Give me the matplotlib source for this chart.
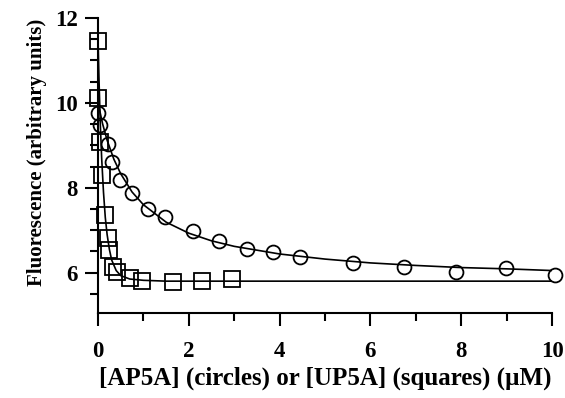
import matplotlib
matplotlib.use("Agg")
import matplotlib.pyplot as plt
from matplotlib.ticker import MultipleLocator

# measured points
circ_x = [0.0, 0.04, 0.22, 0.31, 0.48, 0.75, 1.1, 1.48, 2.09, 2.67, 3.28, 3.86, 4.45, 5.62, 6.74, 7.89, 8.99, 10.07]
circ_y = [9.77, 9.47, 9.04, 8.6, 8.18, 7.87, 7.5, 7.31, 6.98, 6.75, 6.56, 6.49, 6.37, 6.23, 6.14, 6.02, 6.12, 5.95]

sq_x = [0.0, 0.01, 0.04, 0.09, 0.15, 0.22, 0.25, 0.33, 0.42, 0.7, 0.97, 1.65, 2.3, 2.95]
sq_y = [11.46, 10.12, 9.07, 8.3, 7.36, 6.82, 6.54, 6.14, 6.02, 5.88, 5.81, 5.77, 5.81, 5.84]

# fitted curves
circ_fit_x = [0, 0.1, 0.2, 0.35, 0.5, 0.75, 1, 1.5, 2, 2.5, 3, 4, 5, 6, 7, 8, 9, 10]
circ_fit_y = [10.0, 9.51, 9.12, 8.67, 8.33, 7.90, 7.60, 7.19, 6.93, 6.75, 6.62, 6.44, 6.32, 6.23, 6.17, 6.12, 6.09, 6.05]

sq_fit_x = [0, 0.02, 0.05, 0.08, 0.12, 0.16, 0.2, 0.25, 0.3, 0.4, 0.5, 0.7, 1.0, 1.5, 2, 10]
sq_fit_y = [11.5, 10.6, 9.5, 8.7, 7.9, 7.3, 6.9, 6.55, 6.3, 6.05, 5.93, 5.85, 5.82, 5.8, 5.8, 5.8]

plt.rcParams["font.family"] = "Liberation Serif"
plt.rcParams["font.weight"] = "bold"

fig = plt.figure(figsize=(5.65, 3.98), dpi=100)
ax = fig.add_axes([0.1735, 0.2136, 0.8035, 0.7412])

ax.plot(circ_fit_x, circ_fit_y, color="black", lw=1.2)
ax.plot(sq_fit_x, sq_fit_y, color="black", lw=1.2)
ax.plot(circ_x, circ_y, "o", ms=10, mfc="none", mec="black", mew=1.3, clip_on=False)
ax.plot(sq_x, sq_y, "s", ms=11, mfc="none", mec="black", mew=1.3, clip_on=False)

ax.set_xlim(0, 10)
ax.set_ylim(5.05, 12)
ax.spines["top"].set_visible(False)
ax.spines["right"].set_visible(False)
for s in ("left", "bottom"):
    ax.spines[s].set_linewidth(1.5)

ax.xaxis.set_major_locator(MultipleLocator(2))
ax.xaxis.set_minor_locator(MultipleLocator(1))
ax.yaxis.set_major_locator(MultipleLocator(2))
ax.yaxis.set_minor_locator(MultipleLocator(0.5))
ax.set_yticks([6, 8, 10, 12])
ax.tick_params(which="major", direction="out", length=9.5, width=1.5, labelsize=16.5)
ax.tick_params(which="minor", direction="out", length=6, width=1.5)
ax.tick_params(axis="x", which="major", pad=11)
ax.tick_params(axis="y", which="major", pad=5)
for lab in ax.get_xticklabels() + ax.get_yticklabels():
    lab.set_fontweight("bold")

ax.set_xlabel("[AP5A] (circles) or [UP5A] (squares) (\u00b5M)", fontsize=18, fontweight="bold", labelpad=3)
ax.set_ylabel("Fluorescence (arbitrary units)", fontsize=15, fontweight="bold")
ax.yaxis.set_label_coords(-0.112, 0.544)

fig.savefig("out.png", dpi=100)
